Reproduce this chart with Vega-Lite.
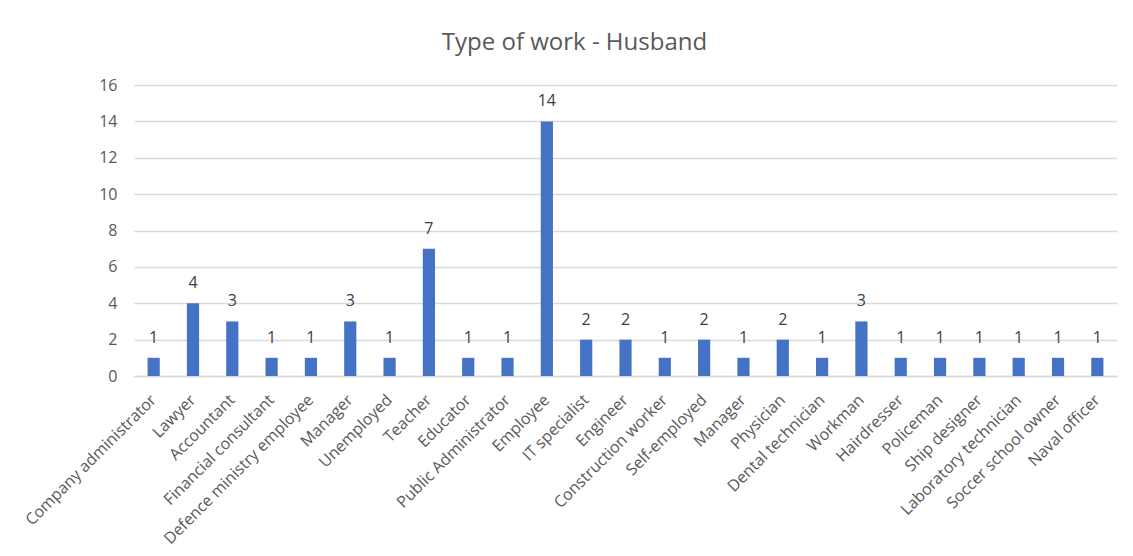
{
  "$schema": "https://vega.github.io/schema/vega-lite/v6.json",
  "width": 983,
  "height": 291,
  "autosize": {"type": "none"},
  "padding": {"left": 134, "top": 85, "right": 16, "bottom": 180},
  "background": "white",
  "title": {
    "text": "Type of work - Husband",
    "fontSize": 24,
    "font": "Open Sans",
    "fontWeight": "normal",
    "color": "#595959",
    "anchor": "middle",
    "dx": -51,
    "offset": 22
  },
  "data": {
    "values": [
      {"job": "Company administrator", "count": 1},
      {"job": "Lawyer", "count": 4},
      {"job": "Accountant", "count": 3},
      {"job": "Financial consultant", "count": 1},
      {"job": "Defence ministry employee", "count": 1},
      {"job": "Manager", "count": 3},
      {"job": "Unemployed", "count": 1},
      {"job": "Teacher", "count": 7},
      {"job": "Educator", "count": 1},
      {"job": "Public Administrator", "count": 1},
      {"job": "Employee", "count": 14},
      {"job": "IT specialist", "count": 2},
      {"job": "Engineer", "count": 2},
      {"job": "Construction worker", "count": 1},
      {"job": "Self-employed", "count": 2},
      {"job": "Manager\u200b", "count": 1},
      {"job": "Physician", "count": 2},
      {"job": "Dental technician", "count": 1},
      {"job": "Workman", "count": 3},
      {"job": "Hairdresser", "count": 1},
      {"job": "Policeman", "count": 1},
      {"job": "Ship designer", "count": 1},
      {"job": "Laboratory technician", "count": 1},
      {"job": "Soccer school owner", "count": 1},
      {"job": "Naval officer", "count": 1}
    ]
  },
  "encoding": {
    "x": {
      "field": "job",
      "type": "nominal",
      "sort": null,
      "scale": {"paddingInner": 0.69, "paddingOuter": 0.345},
      "axis": {
        "title": null,
        "labelAngle": -45,
        "labelAlign": "right",
        "labelBaseline": "middle",
        "labelFont": "Open Sans",
        "labelFontSize": 16,
        "labelColor": "#595959",
        "labelPadding": 21,
        "labelLimit": 400,
        "labelOverlap": false,
        "ticks": false,
        "domainColor": "#d9d9d9",
        "domainWidth": 1.5
      }
    },
    "y": {
      "field": "count",
      "type": "quantitative",
      "scale": {"domain": [0, 16]},
      "axis": {
        "title": null,
        "values": [0, 2, 4, 6, 8, 10, 12, 14, 16],
        "labelFont": "Open Sans",
        "labelFontSize": 16,
        "labelColor": "#595959",
        "labelPadding": 17,
        "ticks": false,
        "domain": false,
        "gridColor": "#d9d9d9",
        "gridWidth": 1.5
      }
    }
  },
  "layer": [
    {"mark": {"type": "bar", "color": "#4472C4"}},
    {
      "mark": {
        "type": "text",
        "baseline": "bottom",
        "dy": -12,
        "font": "Open Sans",
        "fontSize": 16,
        "color": "#404040"
      },
      "encoding": {"text": {"field": "count", "type": "quantitative"}}
    }
  ],
  "config": {"view": {"stroke": null}}
}
